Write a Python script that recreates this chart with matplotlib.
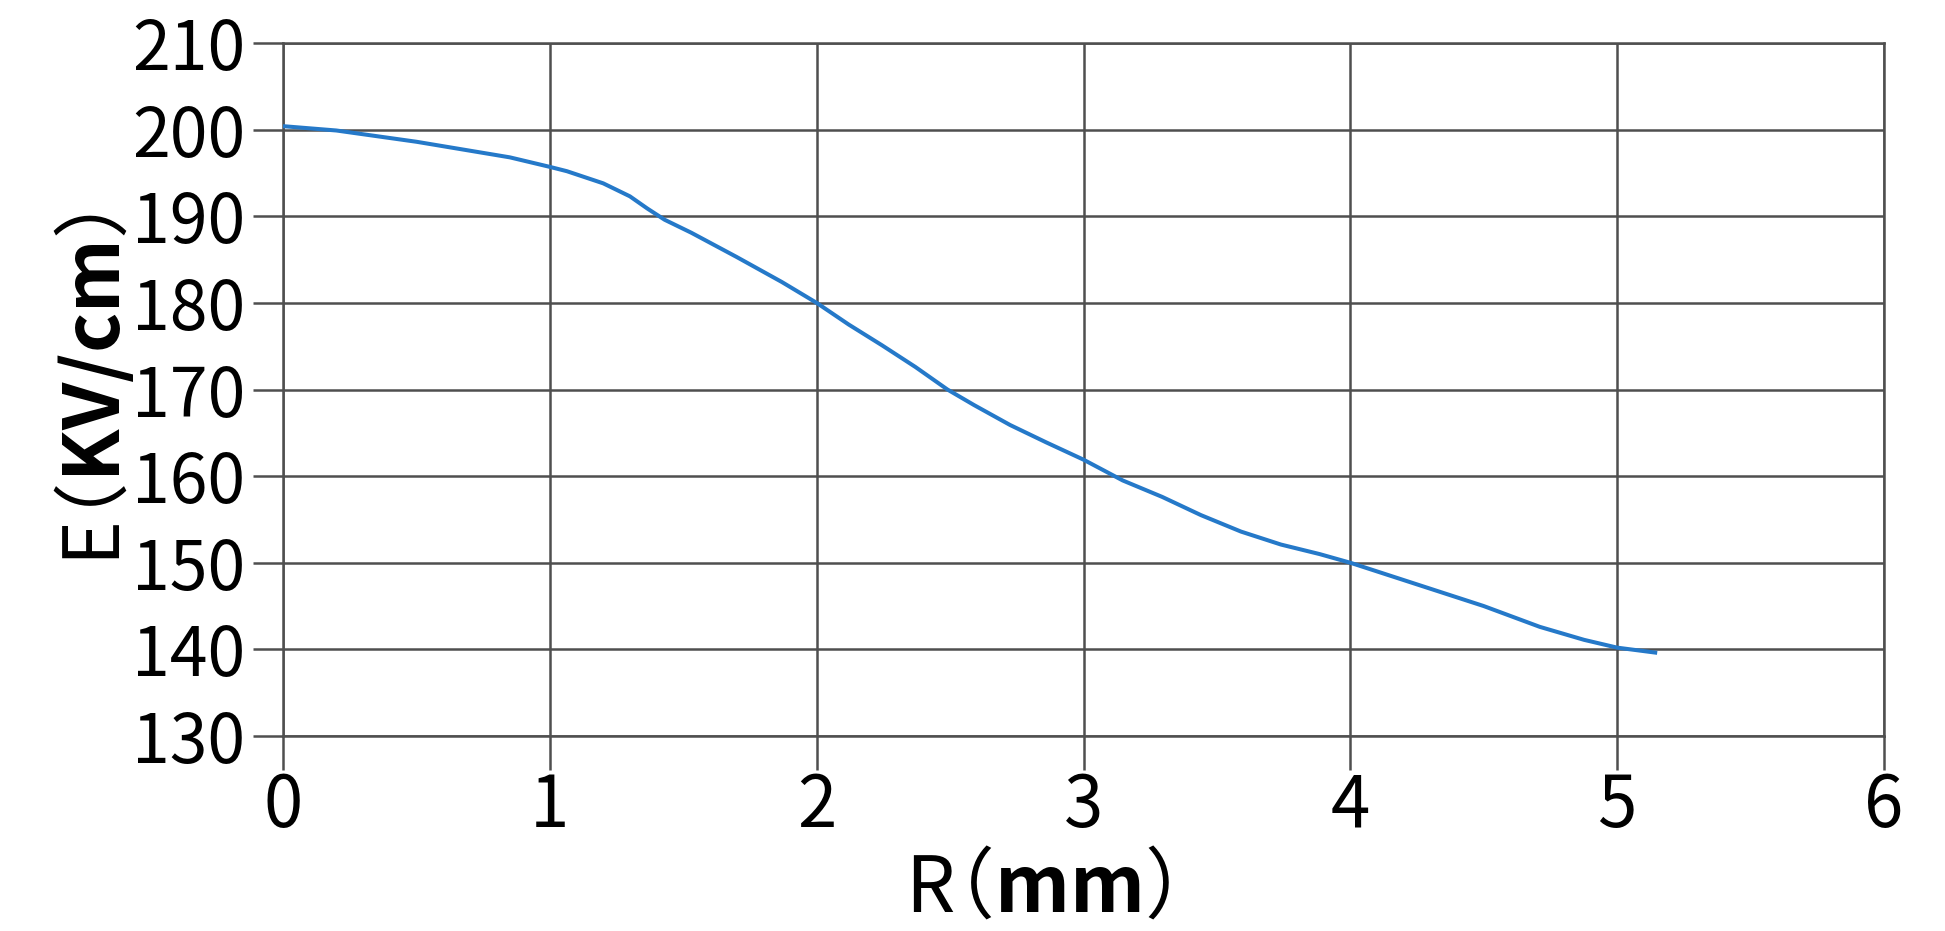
import matplotlib
matplotlib.use("Agg")
import matplotlib.pyplot as plt
from matplotlib.transforms import IdentityTransform

# ---- data ----
R_mm = [0.0, 0.2, 0.5, 0.85, 1.0, 1.064, 1.2, 1.3, 1.365, 1.43, 1.53, 1.7, 1.87,
        2.0, 2.12, 2.245, 2.37, 2.49, 2.59, 2.725, 2.86, 3.0, 3.147, 3.295, 3.44,
        3.59, 3.74, 3.885, 4.0, 4.09, 4.29, 4.5, 4.71, 4.876, 5.0, 5.15]
E_kv = [200.4, 199.9, 198.6, 196.8, 195.7, 195.2, 193.8, 192.3, 190.9, 189.6,
        188.1, 185.3, 182.4, 180.0, 177.5, 175.1, 172.6, 170.0, 168.2, 165.9,
        163.9, 161.9, 159.5, 157.6, 155.5, 153.6, 152.1, 151.0, 150.0, 149.1,
        147.1, 145.0, 142.6, 141.1, 140.2, 139.6]
x_ticks = [0, 1, 2, 3, 4, 5, 6]
y_ticks = [130, 140, 150, 160, 170, 180, 190, 200, 210]
x_label = r'$\mathrm{R}\!\!\!\mathrm{（}\mathbf{mm}\mathrm{）}$'
y_label = r'$\mathrm{E}\!\!\!\mathrm{（}\mathbf{KV/cm}\mathrm{）}$'

W, H, DPI = 1945, 931, 100
plt.rcParams['font.family'] = ['Noto Sans CJK JP', 'DejaVu Sans']
plt.rcParams['mathtext.fontset'] = 'custom'
plt.rcParams['mathtext.rm'] = 'Noto Sans CJK JP'
plt.rcParams['mathtext.bf'] = 'Noto Sans CJK JP:bold'
fig = plt.figure(figsize=(W / DPI, H / DPI), dpi=DPI)
fig.patch.set_facecolor('white')

left, right, top, bottom = 283, 1884, 43, 736
ax = fig.add_axes([left / W, 1 - bottom / H, (right - left) / W, (bottom - top) / H])

grid_c = '#4f4f4f'
ax.plot(R_mm, E_kv, color='#2579c9', lw=2.9, solid_capstyle='butt', zorder=3)

ax.set_xlim(0, 6)
ax.set_ylim(130, 210)
ax.set_xticks(x_ticks)
ax.set_yticks(y_ticks)
ax.set_xticklabels([str(v) for v in x_ticks])
ax.set_yticklabels([str(v) for v in y_ticks])
ax.grid(True, color=grid_c, lw=1.8)
ax.set_axisbelow(True)
for s in ax.spines.values():
    s.set_color(grid_c)
    s.set_linewidth(1.8)

ax.tick_params(axis='y', direction='out', length=21.6, width=1.8, color=grid_c,
               pad=5.5, labelsize=49)
ax.tick_params(axis='x', direction='out', length=24.5, width=1.8, color=grid_c,
               pad=0, labelsize=51)

T = IdentityTransform()
fig.text(905, H - 912, x_label, transform=T, fontsize=56, ha='left', va='baseline')
fig.text(120, H - 566, y_label, transform=T, fontsize=55, rotation=90,
         rotation_mode='anchor', ha='left', va='baseline')

fig.savefig('out.png', dpi=DPI, facecolor='white')
